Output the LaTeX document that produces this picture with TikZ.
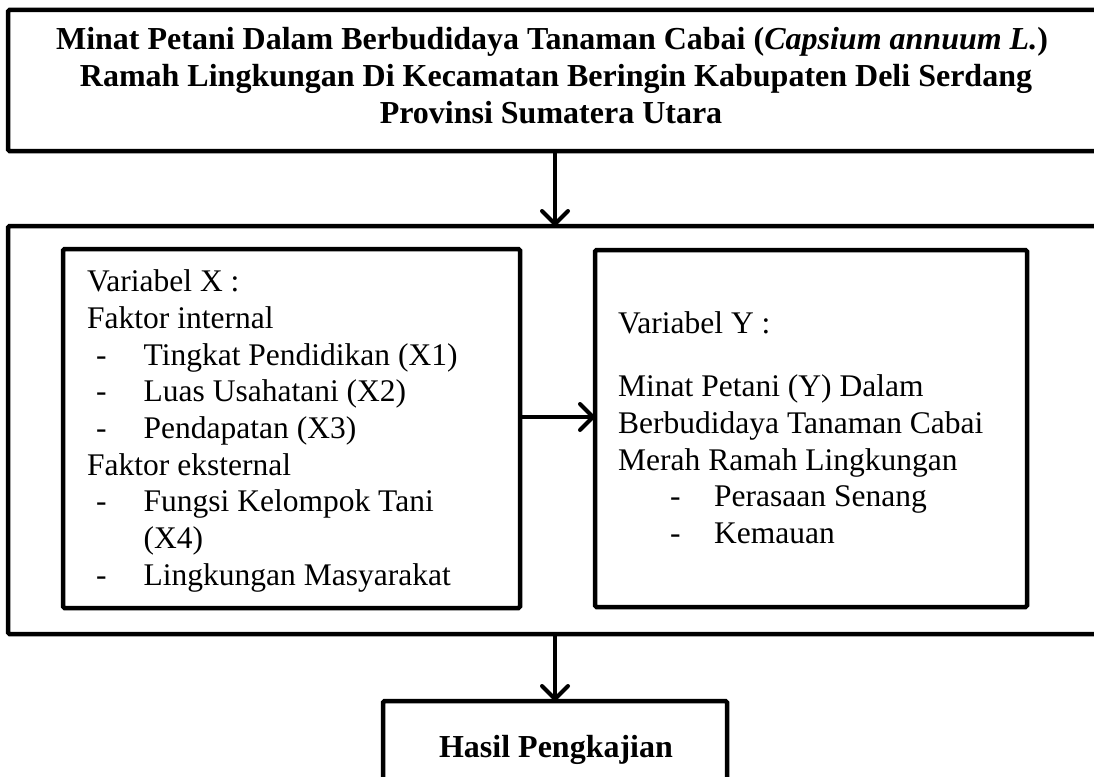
\documentclass[tikz,border=0pt]{standalone}
\usepackage{fontspec}
\setmainfont{Liberation Serif}
\usetikzlibrary{arrows.meta}
\begin{document}
\begin{tikzpicture}[x=1pt,y=-1pt,
  box/.style={draw, line width=4.5pt, rectangle, inner sep=0pt, outer sep=0pt, rounded corners=1.5pt},
  arr/.style={line width=4pt, -{Straight Barb[length=13pt,width=26pt,line cap=round,line join=round]}},
  txt/.style={anchor=base west, inner sep=0pt, font=\fontsize{31.5}{36}\selectfont},
  ttl/.style={anchor=base, inner sep=0pt, font=\fontsize{32}{36}\selectfont\bfseries}]
\useasboundingbox (0,0) rectangle (1094,776);
\fill[white] (0,0) rectangle (1094,776);
% boxes
\node[box, minimum width=1112pt, minimum height=141pt] (top) at (564,80.5) {};
\node[box, minimum width=1112pt, minimum height=408pt] (mid) at (564,430) {};
\node[box, minimum width=457pt, minimum height=359pt] (lft) at (291.5,428.5) {};
\node[box, minimum width=432pt, minimum height=357pt] (rgt) at (811,428.5) {};
\node[box, minimum width=344pt, minimum height=100pt] (bot) at (555,751) {};
% title
\node[ttl] (t1) at (552,49) {Minat Petani Dalam Berbudidaya Tanaman Cabai (\textit{Capsium annuum L.})};
\node[ttl] (t2) at (556,86) {Ramah Lingkungan Di Kecamatan Beringin Kabupaten Deli Serdang};
\node[ttl] (t3) at (551,123) {Provinsi Sumatera Utara};
% left text
\node[txt] (x1) at (87,291) {Variabel X :};
\node[txt] (x2) at (87,328) {Faktor internal};
\node[txt] (x3d) at (96,365) {-};
\node[txt] (x3) at (143.5,365) {Tingkat Pendidikan (X1)};
\node[txt] (x4d) at (96,401.5) {-};
\node[txt] (x4) at (143.5,401.5) {Luas Usahatani (X2)};
\node[txt] (x5d) at (96,438) {-};
\node[txt] (x5) at (143.5,438) {Pendapatan (X3)};
\node[txt] (x6) at (87,475) {Faktor eksternal};
\node[txt] (x7d) at (96,511.5) {-};
\node[txt] (x7) at (143.5,511.5) {Fungsi Kelompok Tani};
\node[txt] (x8) at (143.5,548) {(X4)};
\node[txt] (x9d) at (96,585) {-};
\node[txt] (x9) at (143.5,585) {Lingkungan Masyarakat};
% right text
\node[txt] (y1) at (618,333) {Variabel Y :};
\node[txt] (y2) at (618,396) {Minat Petani (Y) Dalam};
\node[txt] (y3) at (618,433) {Berbudidaya Tanaman Cabai};
\node[txt] (y4) at (618,470) {Merah Ramah Lingkungan};
\node[txt] (y5d) at (670,506.5) {-};
\node[txt] (y5) at (714,506.5) {Perasaan Senang};
\node[txt] (y6d) at (670,543) {-};
\node[txt] (y6) at (714,543) {Kemauan};
% bottom text
\node[ttl] (h) at (556,757) {Hasil Pengkajian};
% connectors
\coordinate (ay) at (0,417);
\draw[arr] (top.south -| bot.north) -- (mid.north -| bot.north);
\draw[arr] (lft.east |- ay) -- (rgt.west |- ay);
\draw[arr] (mid.south -| bot.north) -- (bot.north);
\end{tikzpicture}
\end{document}
